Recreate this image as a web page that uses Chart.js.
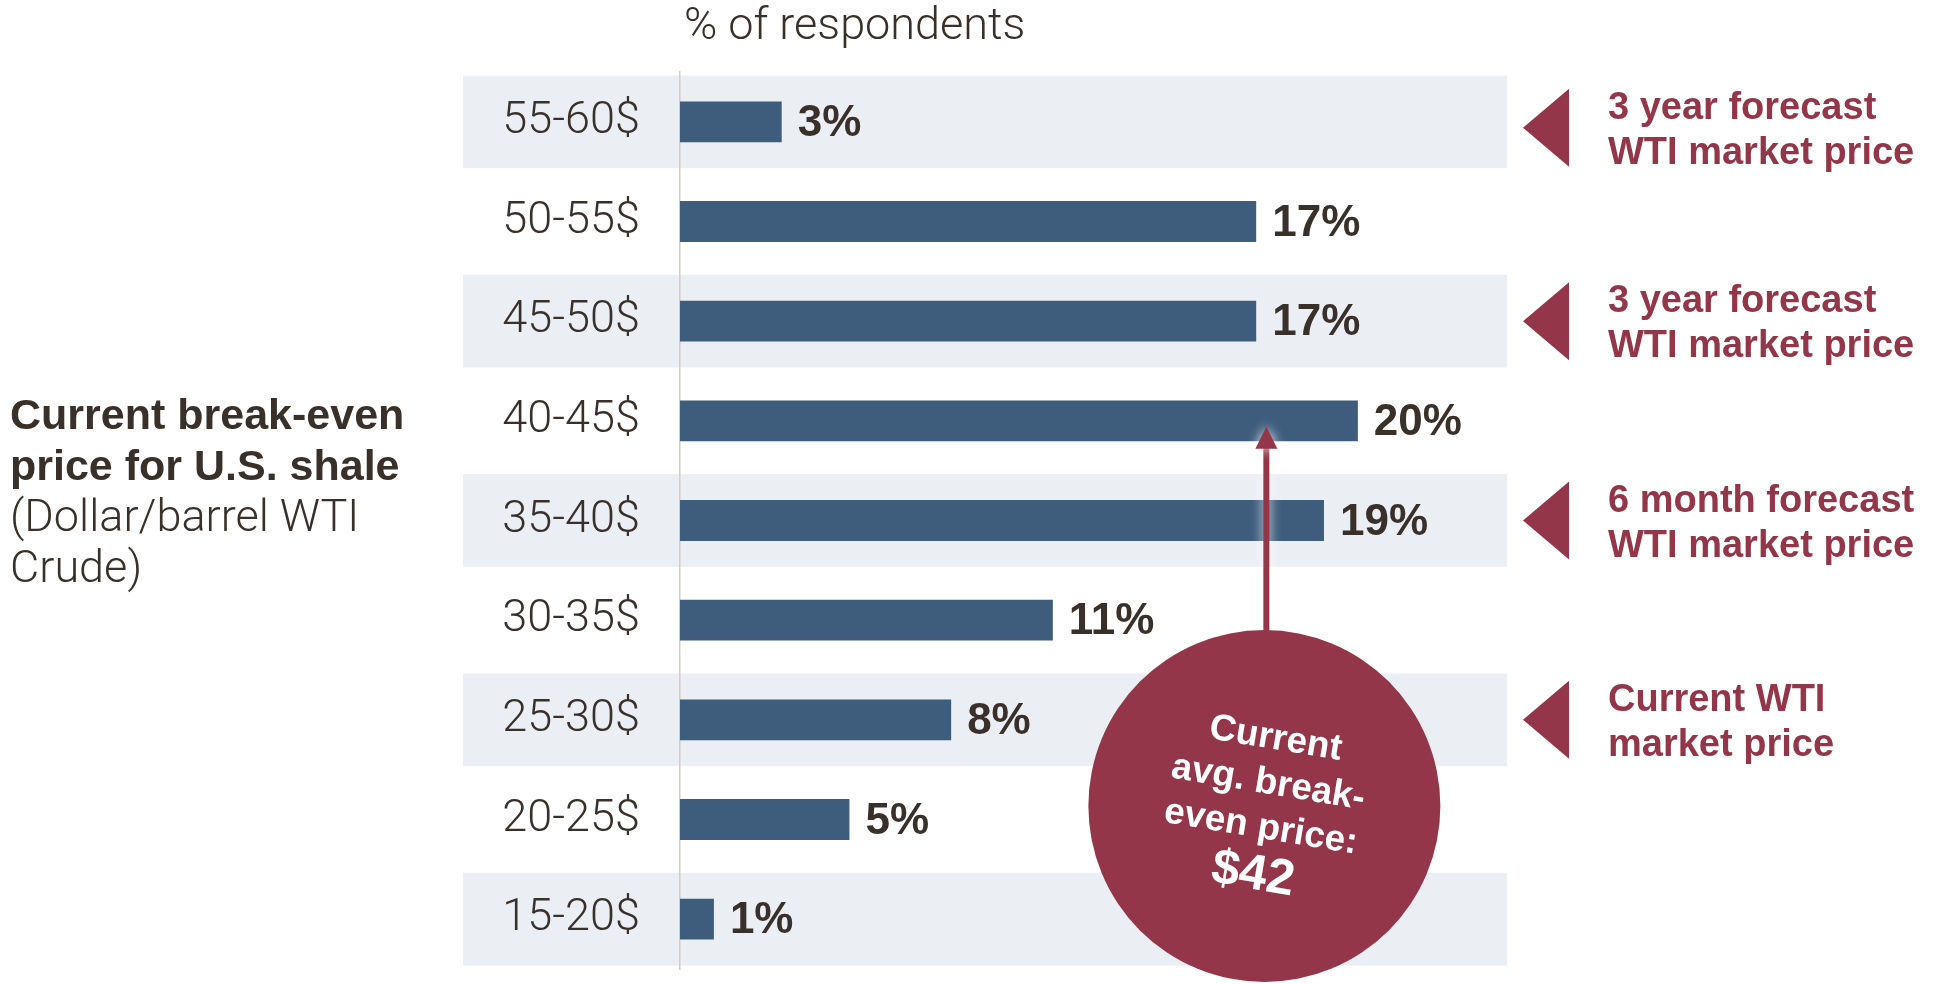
<!DOCTYPE html>
<html>
<head>
<meta charset="utf-8">
<title>Break-even price for U.S. shale</title>
<script src="https://cdn.jsdelivr.net/npm/chart.js@4.4.1/dist/chart.umd.min.js"></script>
<style>
  html, body { margin: 0; padding: 0; background: #fff; }
  #wrap { width: 1940px; height: 984px; }
</style>
</head>
<body>
<div id="wrap"><canvas id="chart" width="1940" height="984"></canvas></div>
<script>
// ==================== DATA ====================
const priceRanges = ['55-60$', '50-55$', '45-50$', '40-45$', '35-40$', '30-35$', '25-30$', '20-25$', '15-20$'];
const respondentShare = [3, 17, 17, 20, 19, 11, 8, 5, 1];

// WTI market price markers on the right ($/barrel)
const markerPrices = [57.2, 47.5, 37.5, 27.5];
const markerLines = [
  ['3 year forecast', 'WTI market price'],
  ['3 year forecast', 'WTI market price'],
  ['6 month forecast', 'WTI market price'],
  ['Current WTI', 'market price']
];

const avgBreakEven = 42;
const bubbleLines = ['Current', 'avg. break-', 'even price:'];
const titleBold = ['Current break-even', 'price for U.S. shale'];
const titleLight = ['(Dollar/barrel WTI', 'Crude)'];
const axisTitle = '% of respondents';

// ==================== STYLE ====================
const TEXT = '#38312b';
const BAR = '#3e5c7c';
const BAND = '#ebeef3';
const RED = '#943649';
const LIGHT = '"Roboto", "Liberation Sans", Arial, sans-serif';
const BOLD = '"Liberation Sans", Arial, sans-serif';
const BAND_LEFT = 463;
const BUBBLE_X = 17.3;   // in % units, where the arrow stands
const BUBBLE_R = 176;

// price ($) -> fractional row index on the category axis
function priceToRow(price) {
  return (60 - price) / 5 - 0.5;
}

// shaded rows behind every other range + texts outside the plot
const backgroundPlugin = {
  id: 'background',
  beforeDraw(chart) {
    const { ctx, chartArea, scales: { y } } = chart;
    const step = y.getPixelForValue(1) - y.getPixelForValue(0);
    ctx.save();
    ctx.fillStyle = BAND;
    priceRanges.forEach((r, i) => {
      if (i % 2) return;
      const cy = y.getPixelForValue(i);
      ctx.fillRect(BAND_LEFT, cy - step * 0.465, chartArea.right - BAND_LEFT, step * 0.93);
    });

    ctx.fillStyle = TEXT;
    ctx.textAlign = 'left';
    ctx.textBaseline = 'alphabetic';
    ctx.font = '300 45px ' + LIGHT;
    ctx.fillText(axisTitle, chartArea.left + 4, 39);

    ctx.font = 'bold 43px ' + BOLD;
    titleBold.forEach((t, i) => ctx.fillText(t, 10, 429 + i * 51));
    ctx.font = '300 45px ' + LIGHT;
    titleLight.forEach((t, i) => ctx.fillText(t, 10, 531 + i * 51));
    ctx.restore();
  }
};

// value labels at bar ends
const valueLabelsPlugin = {
  id: 'valueLabels',
  afterDatasetsDraw(chart) {
    const { ctx } = chart;
    const meta = chart.getDatasetMeta(0);
    ctx.save();
    ctx.font = 'bold 44px ' + BOLD;
    ctx.fillStyle = TEXT;
    ctx.textAlign = 'left';
    ctx.textBaseline = 'middle';
    meta.data.forEach((bar, i) => {
      ctx.fillText(respondentShare[i] + '%', bar.x + 16, bar.y + 2);
    });
    ctx.restore();
  }
};

// triangles + market price notes on the right
const markersPlugin = {
  id: 'markers',
  afterDraw(chart) {
    const { ctx, chartArea, scales: { y } } = chart;
    ctx.save();
    markerPrices.forEach((price, k) => {
      const cy = y.getPixelForValue(priceToRow(price));
      const tip = chartArea.right + 16;
      ctx.fillStyle = RED;
      ctx.beginPath();
      ctx.moveTo(tip, cy);
      ctx.lineTo(tip + 46, cy - 39);
      ctx.lineTo(tip + 46, cy + 39);
      ctx.closePath();
      ctx.fill();

      ctx.font = 'bold 38px ' + BOLD;
      ctx.textAlign = 'left';
      ctx.textBaseline = 'alphabetic';
      ctx.fillText(markerLines[k][0], tip + 85, cy - 9);
      ctx.fillText(markerLines[k][1], tip + 85, cy + 36);
    });
    ctx.restore();
  }
};

// arrow + circle with the average break-even price
const bubblePlugin = {
  id: 'bubble',
  afterDraw(chart) {
    const { ctx, chartArea, scales: { x, y } } = chart;
    const ax = x.getPixelForValue(BUBBLE_X);
    const tipY = y.getPixelForValue(priceToRow(avgBreakEven)) - 4;
    const cx = ax - 2;
    const cy = chartArea.bottom - 163;

    ctx.save();
    // arrow with soft light halo
    ctx.shadowColor = 'rgba(255,255,255,0.9)';
    ctx.shadowBlur = 12;
    ctx.fillStyle = RED;
    ctx.fillRect(ax - 3, tipY + 20, 6, cy - BUBBLE_R - tipY - 10);
    ctx.beginPath();
    ctx.moveTo(ax, tipY);
    ctx.lineTo(ax + 11, tipY + 22);
    ctx.lineTo(ax - 11, tipY + 22);
    ctx.closePath();
    ctx.fill();
    ctx.shadowBlur = 0;

    ctx.beginPath();
    ctx.arc(cx, cy, BUBBLE_R, 0, Math.PI * 2);
    ctx.fill();

    // tilted text
    ctx.translate(cx, cy);
    ctx.rotate(9.5 * Math.PI / 180);
    ctx.fillStyle = '#fff';
    ctx.textAlign = 'center';
    ctx.textBaseline = 'middle';
    ctx.font = 'bold 37px ' + BOLD;
    bubbleLines.forEach((t, i) => ctx.fillText(t, 0, -68 + i * 45));
    ctx.font = 'bold 50px ' + BOLD;
    ctx.fillText('$' + avgBreakEven, 0, 70);
    ctx.restore();
  }
};

// ==================== CHART ====================
const chart = new Chart(document.getElementById('chart'), {
  type: 'bar',
  data: {
    labels: priceRanges,
    datasets: [{
      data: respondentShare,
      backgroundColor: BAR,
      borderWidth: 0,
      barPercentage: 0.41,
      categoryPercentage: 1
    }]
  },
  options: {
    indexAxis: 'y',
    responsive: false,
    animation: false,
    layout: { padding: { top: 72, bottom: 15, left: 0, right: 433 } },
    plugins: {
      legend: { display: false },
      tooltip: { enabled: false }
    },
    scales: {
      x: {
        display: false,
        min: 0,
        max: 24.4
      },
      y: {
        afterFit(scale) {
          // fixed axis width, no extra room for the first/last label
          scale.width = 680;
          scale.paddingTop = 0;
          scale.paddingBottom = 0;
        },
        grid: { display: false, drawTicks: false },
        border: { display: true, color: '#d3ccc4', width: 1.5 },
        ticks: {
          padding: 40,
          color: TEXT,
          font: { family: LIGHT, weight: '300', size: 45 }
        }
      }
    }
  },
  plugins: [backgroundPlugin, valueLabelsPlugin, markersPlugin, bubblePlugin]
});
</script>
</body>
</html>
